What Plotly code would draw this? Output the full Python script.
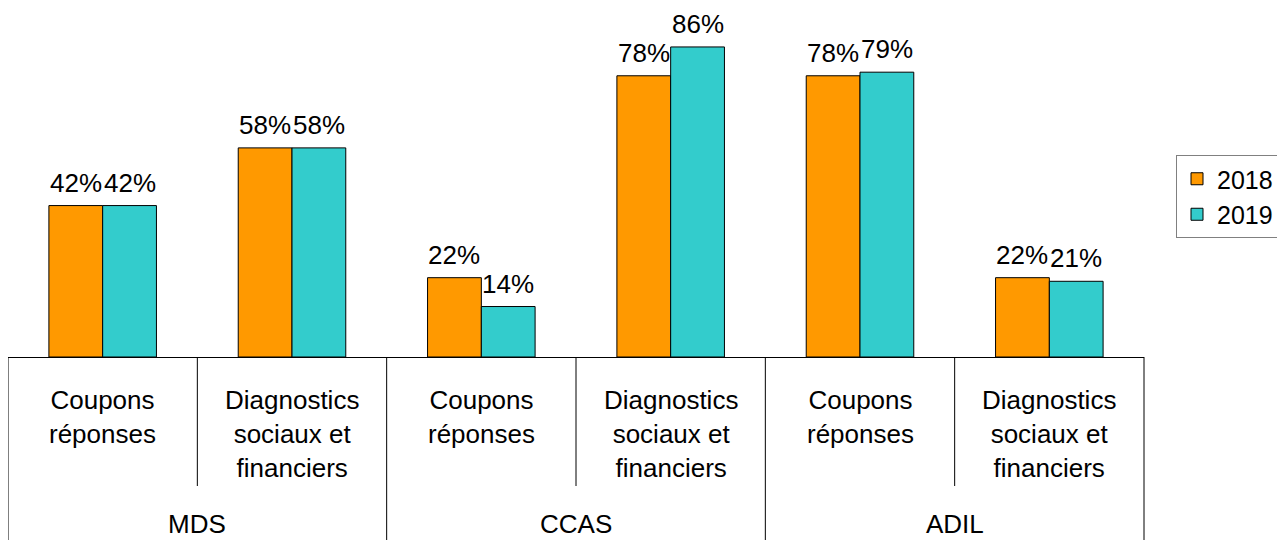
import plotly.graph_objects as go

groups = ["MDS", "CCAS", "ADIL"]
sub_labels = ["Coupons<br>réponses", "Diagnostics<br>sociaux et<br>financiers"]
years = ["2018", "2019"]
values_2018 = [42, 58, 22, 78, 78, 22]
values_2019 = [42, 58, 14, 86, 79, 21]
colors = ["#FF9900", "#33CCCC"]

FONT = "Liberation Sans, Arial, sans-serif"

n_cat = len(groups) * len(sub_labels)
xpos = list(range(n_cat))
bargap = 0.432
bar_w = (1 - bargap) / 2

# the page body has an 8px margin, so figure coords = page coords - 8
plot_w = 1136
plot_h = 349

fig = go.Figure()
for year, vals, col in zip(years, [values_2018, values_2019], colors):
    fig.add_trace(go.Bar(
        x=xpos, y=vals, name=year,
        marker=dict(color=col, line=dict(color="#000000", width=1)),
    ))

annotations = []
# value labels above bars
for k, vals in enumerate([values_2018, values_2019]):
    off = (k - 0.5) * bar_w
    for i, v in zip(xpos, vals):
        annotations.append(dict(
            x=i + off, y=v, xref="x", yref="y", text=f"{v}%",
            showarrow=False, yanchor="bottom", yshift=6,
            font=dict(size=26, color="#000000", family=FONT),
        ))

# sub-category labels
for i in xpos:
    annotations.append(dict(
        x=i, y=-26 / plot_h, xref="x", yref="paper",
        text=sub_labels[i % len(sub_labels)], showarrow=False,
        yanchor="top", align="center",
        font=dict(size=26, color="#000000", family=FONT),
    ))
# group labels
for g, name in enumerate(groups):
    annotations.append(dict(
        x=g * 2 + 0.5, y=-167 / plot_h, xref="x", yref="paper",
        text=name, showarrow=False, yanchor="middle",
        font=dict(size=26, color="#000000", family=FONT),
    ))

shapes = []
for k in range(n_cat + 1):
    bottom = -195 / plot_h if k % 2 == 0 else -129 / plot_h
    shapes.append(dict(
        type="line", xref="paper", yref="paper",
        x0=k / n_cat, x1=k / n_cat, y0=0, y1=bottom,
        line=dict(color="#000000", width=1),
    ))

fig.update_layout(
    width=1285, height=540,
    margin=dict(l=0, r=1285 - plot_w, t=0, b=540 - plot_h, autoexpand=False),
    plot_bgcolor="white", paper_bgcolor="white",
    barmode="group", bargap=bargap, bargroupgap=0,
    font=dict(family=FONT, size=26, color="#000000"),
    xaxis=dict(range=[-0.5, n_cat - 0.5], showticklabels=False, ticks="",
               showgrid=False, zeroline=False, showline=True,
               linecolor="#000000", linewidth=1),
    yaxis=dict(range=[0, 96.8], visible=False),
    legend=dict(x=1168 / plot_w, y=(plot_h - 147) / plot_h,
                xanchor="left", yanchor="top", itemwidth=30,
                bordercolor="#808080", borderwidth=1,
                font=dict(size=25, family=FONT)),
    annotations=annotations, shapes=shapes,
    showlegend=True,
)

fig.write_html("out.html")
